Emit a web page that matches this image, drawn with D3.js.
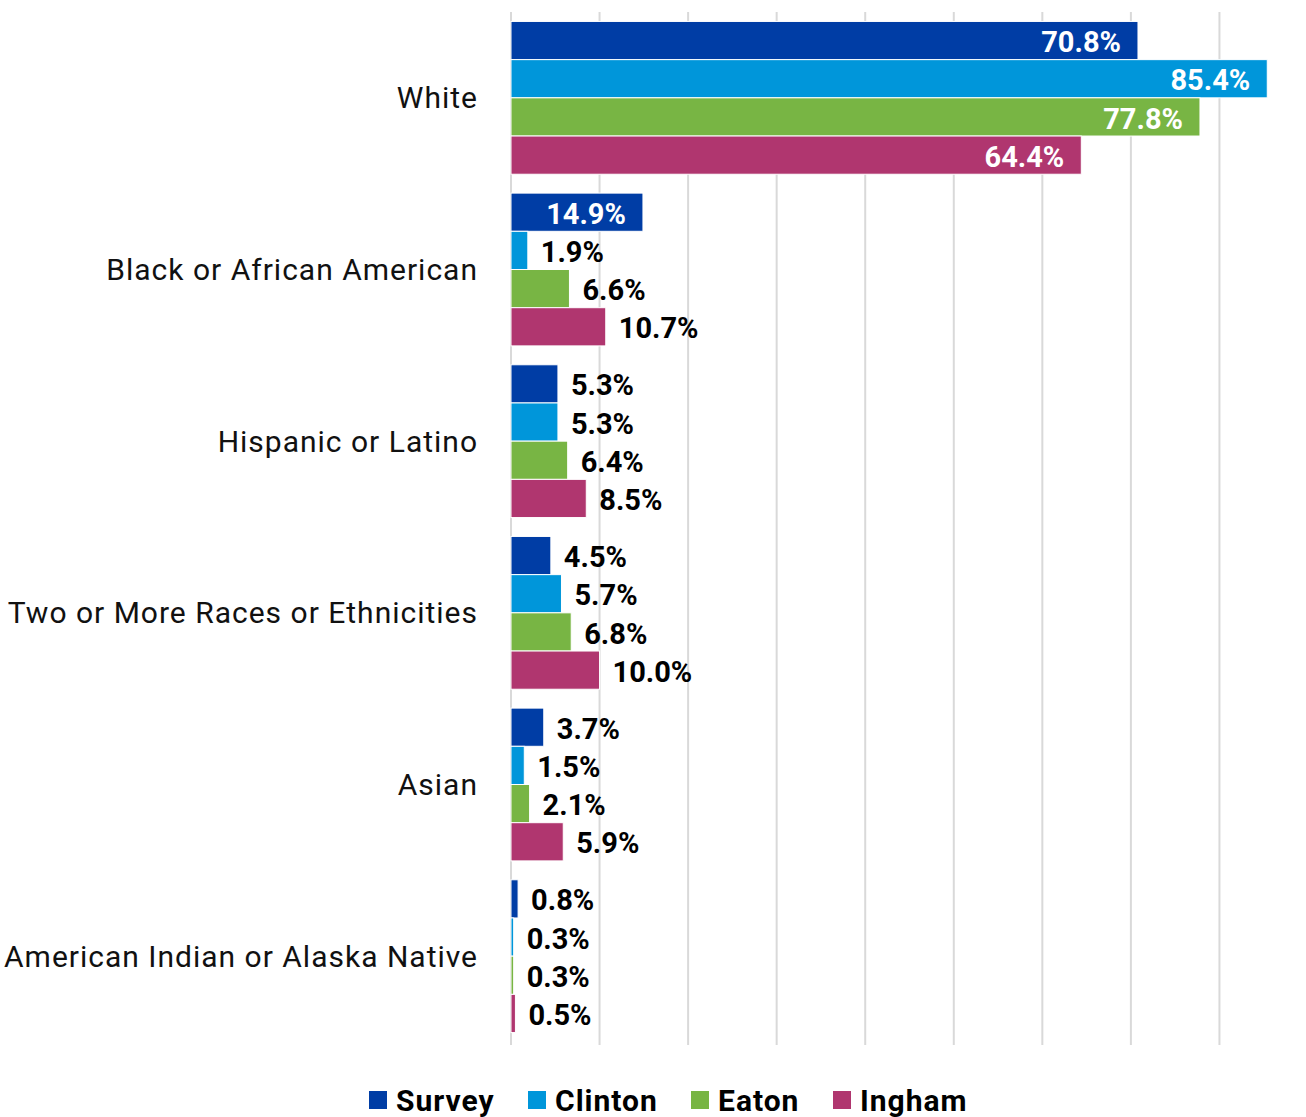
<!DOCTYPE html>
<html>
<head>
<meta charset="utf-8">
<script src="https://cdn.jsdelivr.net/npm/d3@7"></script>
<style>
  html, body { margin: 0; padding: 0; background: #fff; }
  svg { display: block; }
</style>
</head>
<body>
<svg id="chart" width="1306" height="1117"></svg>
<script>
const categories = ["White", "Black or African American", "Hispanic or Latino", "Two or More Races or Ethnicities", "Asian", "American Indian or Alaska Native"];
const seriesNames = ["Survey", "Clinton", "Eaton", "Ingham"];
const survey  = [70.8, 14.9, 5.3, 4.5, 3.7, 0.8];
const clinton = [85.4, 1.9, 5.3, 5.7, 1.5, 0.3];
const eaton   = [77.8, 6.6, 6.4, 6.8, 2.1, 0.3];
const ingham  = [64.4, 10.7, 8.5, 10.0, 5.9, 0.5];
const seriesValues = [survey, clinton, eaton, ingham];
const colors = ["#003DA5", "#0096DA", "#78B544", "#B0366F"];
const gridTicks = [0, 10, 20, 30, 40, 50, 60, 70, 80];

const svg = d3.select("#chart");
const FONT = "Roboto, 'DejaVu Sans', sans-serif";

const x = d3.scaleLinear().domain([0, 90]).range([511, 1308]);
const y = d3.scaleBand().domain(categories).range([12, 1042]).paddingInner(0.11).paddingOuter(0.055);
const y1 = d3.scaleBand().domain(seriesNames).range([0, y.bandwidth()]);

// gridlines
svg.append("g").selectAll("line").data(gridTicks).join("line")
  .attr("x1", d => x(d)).attr("x2", d => x(d))
  .attr("y1", 12).attr("y2", 1045)
  .attr("stroke", "#d9d9d9").attr("stroke-width", 2);

// category labels
svg.append("g").selectAll("text").data(categories).join("text")
  .attr("x", 478)
  .attr("y", d => y(d) + y.bandwidth() / 2)
  .attr("dy", "0.35em")
  .attr("text-anchor", "end")
  .attr("font-family", FONT)
  .attr("font-size", 30)
  .attr("letter-spacing", 1)
  .attr("fill", "#111")
  .text(d => d);

// bars
const rows = [];
categories.forEach((c, i) => {
  seriesNames.forEach((s, j) => rows.push({cat: c, series: s, value: seriesValues[j][i], color: colors[j]}));
});

const g = svg.append("g");
g.selectAll("rect").data(rows).join("rect")
  .attr("x", x(0))
  .attr("y", d => y(d.cat) + y1(d.series))
  .attr("width", d => x(d.value) - x(0))
  .attr("height", y1.bandwidth())
  .attr("fill", d => d.color)
  .attr("stroke", "#fff")
  .attr("stroke-width", 1);

// labels
g.selectAll("text").data(rows).join("text")
  .attr("x", d => {
    const inside = d.value > 12;
    return inside ? x(d.value) - 17 : x(d.value) + 13;
  })
  .attr("y", d => y(d.cat) + y1(d.series) + y1.bandwidth() / 2)
  .attr("dy", "0.4em")
  .attr("text-anchor", d => d.value > 12 ? "end" : "start")
  .attr("font-family", FONT)
  .attr("font-weight", "bold")
  .attr("font-size", 29)
  .attr("fill", d => d.value > 12 ? "#fff" : "#000")
  .text(d => d.value.toFixed(1) + "%");

// legend
const legendX = [369, 528, 691, 833];
const lg = svg.append("g").selectAll("g").data(seriesNames).join("g")
  .attr("transform", (d, i) => `translate(${legendX[i]},0)`);
lg.append("rect").attr("x", 0).attr("y", 1091).attr("width", 18).attr("height", 18)
  .attr("fill", (d, i) => colors[i]);
lg.append("text").attr("x", 27).attr("y", 1100).attr("dy", "0.38em")
  .attr("font-family", FONT).attr("font-weight", "bold").attr("font-size", 30)
  .attr("letter-spacing", 1)
  .attr("fill", "#000").text(d => d);
</script>
</body>
</html>
